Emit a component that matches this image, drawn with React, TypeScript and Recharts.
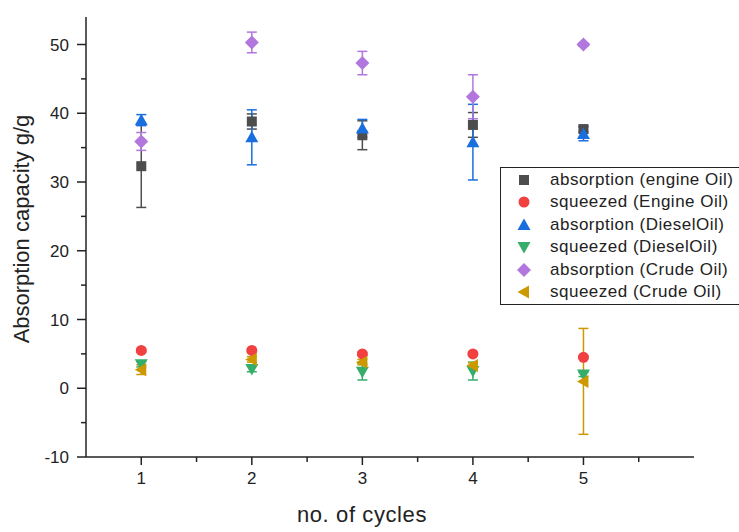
import React from 'react';
import { ScatterChart, Scatter, XAxis, YAxis, ErrorBar } from 'recharts';

const cycles = [1, 2, 3, 4, 5];

const absEngine = [32.3, 38.8, 36.8, 38.3, 37.7];
const absEngineErr = [6.0, 1.1, 2.1, 1.8, 0.4];
const sqEngine = [5.5, 5.5, 5.0, 5.0, 4.5];
const sqEngineErr = [0.2, 0.2, 0.2, 0.2, 0.2];
const absDiesel = [39.0, 36.5, 37.8, 35.8, 37.0];
const absDieselErr = [0.8, 4.0, 1.3, 5.5, 1.0];
const sqDiesel = [3.5, 2.8, 2.4, 2.5, 2.0];
const sqDieselErr = [0.4, 0.4, 1.2, 1.3, 0.3];
const absCrude = [35.9, 50.3, 47.3, 42.4, 50.0];
const absCrudeErr = [1.3, 1.5, 1.7, 3.2, 0.2];
const sqCrude = [2.7, 4.2, 3.8, 3.3, 1.0];
const sqCrudeErr = [0.7, 0.4, 0.4, 0.4, 7.7];

const yTicks = [-10, -5, 0, 5, 10, 15, 20, 25, 30, 35, 40, 45, 50];
const xTicks = [1, 1.5, 2, 2.5, 3, 3.5, 4, 4.5, 5, 5.5];

const W = 739;
const H = 532;
const AXIS_X = 86;
const AXIS_Y = 457;
const FONT = '"Liberation Sans", Arial, sans-serif';

type Kind = 'square' | 'circle' | 'up' | 'down' | 'diamond' | 'left';

const markerPath = (kind: Kind, cx: number, cy: number, color: string) => {
  switch (kind) {
    case 'square':
      return <rect x={cx - 5} y={cy - 5} width={10} height={10} fill={color} />;
    case 'circle':
      return <circle cx={cx} cy={cy} r={5.5} fill={color} />;
    case 'up':
      return <polygon points={`${cx},${cy - 6.5} ${cx + 6.5},${cy + 5} ${cx - 6.5},${cy + 5}`} fill={color} />;
    case 'down':
      return <polygon points={`${cx},${cy + 6.5} ${cx + 6.5},${cy - 5} ${cx - 6.5},${cy - 5}`} fill={color} />;
    case 'diamond':
      return <polygon points={`${cx},${cy - 7} ${cx + 7},${cy} ${cx},${cy + 7} ${cx - 7},${cy}`} fill={color} />;
    case 'left':
      return <polygon points={`${cx - 6.5},${cy} ${cx + 5},${cy - 6.5} ${cx + 5},${cy + 6.5}`} fill={color} />;
  }
};

const series = [
  { name: 'absorption (engine Oil)', values: absEngine, errs: absEngineErr, color: '#4d4d4d', kind: 'square' as Kind },
  { name: 'squeezed (Engine Oil)', values: sqEngine, errs: sqEngineErr, color: '#f14040', kind: 'circle' as Kind },
  { name: 'absorption (DieselOil)', values: absDiesel, errs: absDieselErr, color: '#1a6fdf', kind: 'up' as Kind },
  { name: 'squeezed (DieselOil)', values: sqDiesel, errs: sqDieselErr, color: '#37ad6b', kind: 'down' as Kind },
  { name: 'absorption (Crude Oil)', values: absCrude, errs: absCrudeErr, color: '#b177de', kind: 'diamond' as Kind },
  { name: 'squeezed (Crude Oil)', values: sqCrude, errs: sqCrudeErr, color: '#cc9900', kind: 'left' as Kind },
];

// ticks drawn by hand so minor ticks can be shorter and unlabelled
const YTick = (props: any) => {
  const { y, payload } = props;
  const v = payload.value;
  const major = v % 10 === 0;
  return (
    <g>
      <line x1={AXIS_X - (major ? 9 : 5)} x2={AXIS_X} y1={y} y2={y} stroke="#222" strokeWidth={1.5} />
      {major && (
        <text x={AXIS_X - 17} y={y} dy="0.36em" textAnchor="end" fontSize={17} fontFamily={FONT} fill="#222">
          {v}
        </text>
      )}
    </g>
  );
};

const XTick = (props: any) => {
  const { x, payload } = props;
  const v = payload.value;
  const major = Number.isInteger(v);
  return (
    <g>
      <line x1={x} x2={x} y1={AXIS_Y} y2={AXIS_Y + (major ? 8 : 5)} stroke="#222" strokeWidth={1.5} />
      {major && (
        <text x={x} y={AXIS_Y + 21} textAnchor="middle" dy="0.36em" fontSize={17} fontFamily={FONT} fill="#222">
          {v}
        </text>
      )}
    </g>
  );
};

const App = () => {
  return (
    <div style={{ position: 'absolute', left: 0, top: 0, width: W, height: H, overflow: 'hidden', background: '#fff', fontFamily: FONT }}>
      <ScatterChart width={W} height={H} margin={{ top: 17, right: 45, left: 0, bottom: 0 }}>
        <XAxis
          type="number"
          dataKey="x"
          domain={[0.5, 6]}
          ticks={xTicks}
          interval={0}
          height={H - AXIS_Y}
          tick={<XTick />}
          tickLine={false}
          axisLine={{ stroke: '#222', strokeWidth: 1.5 }}
          allowDataOverflow
        />
        <YAxis
          type="number"
          dataKey="y"
          domain={[-10, 54]}
          ticks={yTicks}
          interval={0}
          width={AXIS_X}
          tick={<YTick />}
          tickLine={false}
          axisLine={{ stroke: '#222', strokeWidth: 1.5 }}
          allowDataOverflow
        />
        {series.map(s => (
          <Scatter
            key={s.name}
            name={s.name}
            data={cycles.map((c, i) => ({ x: c, y: s.values[i], err: s.errs[i] }))}
            fill={s.color}
            isAnimationActive={false}
            shape={(p: any) => markerPath(s.kind, p.cx, p.cy, s.color)}
          >
            <ErrorBar dataKey="err" direction="y" width={5} stroke={s.color} strokeWidth={1.5} />
          </Scatter>
        ))}
      </ScatterChart>

      <div
        style={{
          position: 'absolute',
          left: 22,
          top: 229,
          transform: 'translate(-50%, -50%) rotate(-90deg)',
          whiteSpace: 'nowrap',
          fontSize: 22,
          color: '#222',
        }}
      >
        Absorption capacity g/g
      </div>
      <div
        style={{
          position: 'absolute',
          left: 362,
          top: 515,
          transform: 'translate(-50%, -50%)',
          whiteSpace: 'nowrap',
          fontSize: 22,
          letterSpacing: 0.6,
          color: '#222',
        }}
      >
        no. of cycles
      </div>

      <div
        style={{
          position: 'absolute',
          left: 500,
          top: 167,
          width: 250,
          height: 136,
          border: '1.5px solid #222',
          background: '#fff',
        }}
      >
        {series.map((s, i) => (
          <div key={s.name} style={{ position: 'absolute', left: 0, top: 12 + i * 22.4, height: 0 }}>
            <svg width={20} height={20} style={{ position: 'absolute', left: 13, top: -10 }}>
              {markerPath(s.kind, 10, 10, s.color)}
            </svg>
            <div
              style={{
                position: 'absolute',
                left: 49,
                top: -10,
                lineHeight: '20px',
                fontSize: 17,
                letterSpacing: 0.5,
                whiteSpace: 'nowrap',
                color: '#222',
              }}
            >
              {s.name}
            </div>
          </div>
        ))}
      </div>
    </div>
  );
};

export default App;
